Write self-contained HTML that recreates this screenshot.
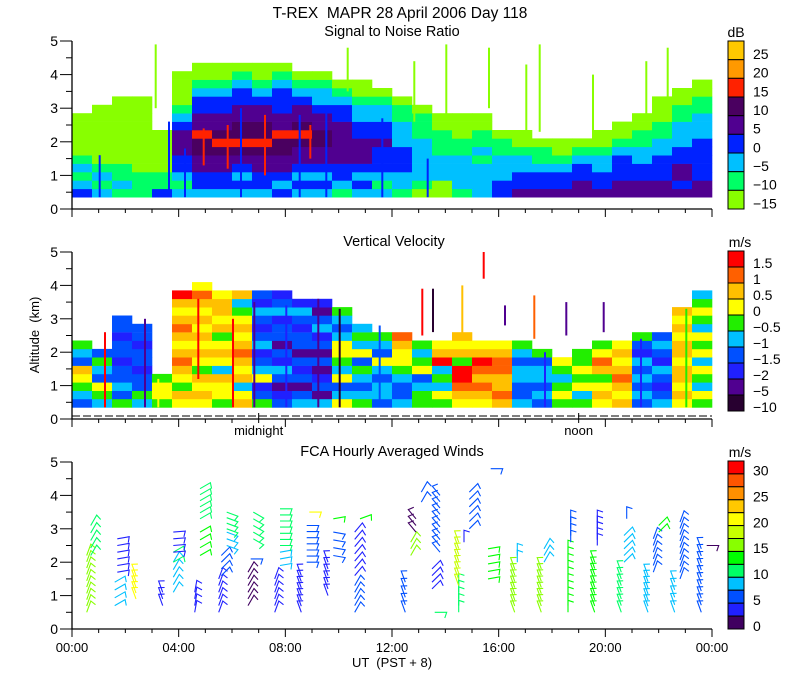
<!DOCTYPE html>
<html><head><meta charset="utf-8"><style>
html,body{margin:0;padding:0;background:#fff}
svg{display:block;font-family:"Liberation Sans",sans-serif}
text{fill:#000;white-space:pre}
</style></head><body>
<svg id="chart" width="800" height="700" viewBox="0 0 800 700" xmlns="http://www.w3.org/2000/svg" xml:space="preserve">
<rect width="800" height="700" fill="#fff"/>
<text x="400" y="18" font-size="15.5" text-anchor="middle">T-REX  MAPR 28 April 2006 Day 118</text>
<text x="392" y="36" font-size="14.5" text-anchor="middle">Signal to Noise Ratio</text>
<text x="394" y="246" font-size="14.5" text-anchor="middle">Vertical Velocity</text>
<text x="392" y="456" font-size="14.5" text-anchor="middle">FCA Hourly Averaged Winds</text>
<text x="39" y="335" font-size="13" text-anchor="middle" transform="rotate(-90 39 335)">Altitude  (km)</text>
<text x="392" y="667" font-size="13" text-anchor="middle">UT  (PST + 8)</text>
<text x="736" y="37" font-size="14" text-anchor="middle">dB</text>
<text x="740" y="247" font-size="14" text-anchor="middle">m/s</text>
<text x="740" y="457" font-size="14" text-anchor="middle">m/s</text>
<g id="layer"></g>
</svg>
<script>
// ---------- data ----------
const hoursX = [0, 4, 8, 12, 16, 20, 24];
const hourLabels = ["00:00","04:00","08:00","12:00","16:00","20:00","00:00"];
const kmTicks = [0,1,2,3,4,5];
const snrLabels = ["\u221215","\u221210","\u22125","0","5","10","15","20","25"];
const snrColors = ["#88ff00","#00ff66","#00c0ff","#0022ff","#500090","#4a0060","#ff2200","#ff9900","#ffc800"];
const snrCols = [
"dcbcbaaaaa","cbcbaaaaaaa","bcbbaaaaaaaa","bbbaaaaaaaaa","dbbaaaaa",
"cbcddeeedcbaaaa","cddeeffgeeddcbaa","cddeefgfeeddcbaa","cdcdefgffeeddcba","cddeefgffeedcbaa",
"dcdeeffgeedddcba","cdcdeefgfeedcba","cdcdeeffeedccba","bcddeeeeeddcba","cdcdeeeddccbaa",
"cbcdddeddccba","bccdddcccbba","abcccccbbba","aacccbbbaa","bccccbbaaa",
"ccccbcbbaa","ddcccbba","eddccbaa","eddcbba","eddcbaa",
"eeddcba","eddccbaa","eedddcbaa","eeddccbbaa","eedddccbbaaa",
"edeeddcccbbaa","eedddddcccbbaa"];
// SNR streaks: [hour, bottomKm, topKm, classIndex]
const snrStreaks = [[3.1,3.0,4.9,0],[10.3,3.5,4.8,0],[14.0,2.8,4.9,0],[15.6,3.0,4.8,0],[17.0,2.3,4.3,0],[17.5,2.3,4.9,0],[19.5,2.2,4.0,0],[21.5,2.6,4.4,0],[22.3,3.0,4.8,0],[12.8,2.6,4.4,0],
[1.0,0.35,1.6,3],[3.6,0.35,2.6,3],[6.3,0.35,3.0,3],[8.5,0.35,2.8,3],[9.5,0.35,3.0,3],[11.6,0.35,2.7,3],[13.3,0.35,1.5,3],[4.2,0.35,1.8,3],
[7.2,1.0,2.8,6],[5.8,1.2,2.5,6],[8.9,1.5,2.5,6],[4.9,1.3,2.4,6]];
const vvLabels = ["1.5","1","0.5","0","\u22120.5","\u22121","\u22121.5","\u22122","\u22125","\u221210"];
const vvColors = ["#ff0000","#ff6000","#ffc000","#ffff00","#22ee00","#00c0ff","#0050ff","#2020ff","#500090","#280030"];
const vvCols = [
"gfedcgfe","fedgfeg","egfgghgghgg","fegghgghgg","edde",
"dcedcbcdcbcdca","dcdcedcdcdcdcbd","eddcfdcdecdccd","cdfcdcbcdcdefc","eghdfghfghgfhg",
"ghigfhgigghfgh","fgighgigghgfh","fighigighfgih","dfgdfeddfgfe","efgfegdfef",
"gffgfdgfe","fggfeddcb","eefgdefe","edfefacd","dcbaaecdc",
"dcbcbacd","cbccbbcd","fggffgfe","gfgffge","edefed",
"efdedee","dcdecbde","cdcbcdcd","gfgfgfhge","fghgfhgfg",
"dcdccdccdcdc","edfedfdedfedef"];
// VV streaks / spikes: [hour, bottomKm, topKm, class]
const vvSpikes = [[13.1,2.5,3.9,0],[13.5,2.6,3.9,9],[14.6,2.5,4.0,2],[15.4,4.2,5.0,0],[17.3,2.4,3.7,1],[18.5,2.5,3.5,8],[19.9,2.6,3.5,8],[16.2,2.8,3.4,8],
[2.7,0.35,3.0,8],[6.8,0.35,3.5,8],[9.2,0.35,3.6,8],[10.0,0.35,3.3,9],[4.7,1.2,3.6,0],[6.0,0.35,3.0,0],[3.2,0.35,1.2,3],[11.5,0.35,2.8,6],[17.7,0.35,2.0,7],[21.3,0.35,2.4,7],[23.0,0.35,3.3,4],[8.0,0.35,3.4,7],[1.2,0.35,2.6,0]];
const windLabels = ["0","5","10","15","20","25","30"];
const windColors = ["#400060","#2020ff","#0050ff","#00c0ff","#00ff66","#00ff00","#88ff00","#c8ff00","#ffff00","#ffc800","#ff9000","#ff5500","#ff0000"];
const windHour = [0.55,0.7,1.6,1.7,2.4,3.4,3.8,3.8,3.8,4.6,4.8,4.8,5.5,5.6,5.8,5.8,6.6,6.7,6.8,7.6,7.8,7.8,8.6,8.8,8.9,9.6,9.8,9.8,10.6,10.6,10.8,12.5,12.7,12.9,13.1,13.6,13.5,13.8,14.5,14.5,14.7,14.9,15.6,15.7,16.6,16.7,17.6,17.7,18.6,18.7,19.6,19.7,20.6,20.7,20.8,21.6,21.8,22.0,22.6,22.8,23.6,23.8];
const windBot = [0.5,2.2,0.7,1.7,0.9,0.7,1.1,2.0,2.3,0.5,2.2,3.3,0.5,1.6,2.5,3.0,0.7,2.1,2.7,0.5,1.9,2.5,0.5,2.0,3.5,1.0,2.2,3.3,0.5,1.6,3.3,0.5,2.2,2.9,3.8,0.5,1.2,2.3,0.5,1.3,2.6,3.0,1.5,4.8,0.5,2.0,0.5,2.0,0.5,2.6,0.5,2.5,0.5,2.0,3.3,0.5,1.7,2.9,0.5,1.5,0.5,2.5];
const windTop = [2.2,3.1,1.4,2.7,1.6,1.1,2.0,2.3,2.9,1.1,2.9,4.2,1.5,2.2,2.9,3.5,1.7,2.1,3.5,1.5,2.3,3.6,1.6,3.1,3.5,2.0,2.9,3.3,1.3,2.9,3.3,1.4,2.6,3.3,4.1,0.5,1.8,4.0,1.3,2.6,2.6,4.1,2.4,4.8,1.8,2.2,1.8,2.4,2.3,3.2,2.0,3.2,1.7,2.8,3.3,1.6,2.7,3.1,1.4,3.2,2.4,2.5];
const windDir = [20,30,60,80,340,340,30,60,85,10,60,60,20,45,110,110,30,90,120,20,80,90,340,90,90,340,100,80,30,40,70,340,30,320,30,90,45,320,0,340,0,45,80,90,340,0,340,30,0,0,340,0,340,45,0,340,20,45,340,20,340,90];
const windSpd = [17,12,8,4,20,3,8,12,3,4,13,12,4,5,9,12,1,5,12,4,9,10,3,5,22,4,5,14,5,4,14,6,17,1,5,10,4,5,10,18,4,5,14,5,17,9,16,9,13,5,13,3,10,9,5,9,5,13,9,5,7,1];

// ---------- geometry ----------
const X0=72, X1=712;
const xOf = h => X0 + (X1-X0)*h/24;
const panels = [ {y0:209, y5:41}, {y0:419, y5:252}, {y0:629, y5:462} ];
const yOf = (p,km) => p.y0 + (p.y5-p.y0)*km/5;
const NS="http://www.w3.org/2000/svg";
const layer=document.getElementById('layer');
function mk(tag, attrs){const e=document.createElementNS(NS,tag);for(const k in attrs)e.setAttribute(k,attrs[k]);layer.appendChild(e);return e;}

function heat(p, cols, colors, prefix){
  const colH = 24/cols.length;
  cols.forEach((s,ci)=>{
    for(let r=0;r<s.length;r++){
      const k=s.charCodeAt(r)-97; if(k<0||k>=colors.length) continue;
      const x=xOf(ci*colH), w=xOf((ci+1)*colH)-x;
      const yt=yOf(p,0.35+0.25*(r+1)), yb=yOf(p,0.35+0.25*r);
      const e=mk('rect',{x:x.toFixed(1),y:yt.toFixed(1),width:(w+0.3).toFixed(1),height:(yb-yt+0.3).toFixed(1),fill:colors[k]});
      
      
    }
  });
}
function streaks(p, arr, colors, name){
  arr.forEach(s=>{
    const e=mk('rect',{x:xOf(s[0]).toFixed(1),y:yOf(p,s[2]).toFixed(1),width:2,height:(yOf(p,s[1])-yOf(p,s[2])).toFixed(1),fill:colors[s[3]]});
    
    
  });
}
heat(panels[0], snrCols, snrColors, 'snr');
streaks(panels[0], snrStreaks, snrColors, 'snr-streak');
heat(panels[1], vvCols, vvColors, 'vv');
streaks(panels[1], vvSpikes, vvColors, 'vv-spike');

function spdColor(v){const i=Math.max(0,Math.min(12,Math.floor(v/2.5)));return windColors[i];}
const p3=panels[2];
windHour.forEach((h,i)=>{
  const b=windBot[i], t=windTop[i];
  const n=Math.max(1,Math.round((t-b)/0.2)+1);
  for(let j=0;j<n;j++){
    const km = n===1? b : b+(t-b)*j/(n-1);
    const x=xOf(h), y=yOf(p3,km);
    const a=windDir[i]*Math.PI/180, L=12;
    const ex=x+L*Math.sin(a), ey=y-L*Math.cos(a);
    const fa=a+Math.PI*0.6, fx=ex+6*Math.sin(fa), fy=ey-6*Math.cos(fa);
    const c=spdColor(windSpd[i]);
    const g=mk('path',{d:`M${x.toFixed(1)} ${y.toFixed(1)}L${ex.toFixed(1)} ${ey.toFixed(1)}L${fx.toFixed(1)} ${fy.toFixed(1)}`,stroke:c,'stroke-width':1.1,fill:'none'});
    
    
  }
});

panels.forEach((p,pi)=>{
  const ax=mk('path',{d:`M${X0} ${p.y5}V${p.y0}H${X1}`,stroke:'#000','stroke-width':1.3,fill:'none'});
  
  
  for(let k=0;k<=10;k++){
    const y=yOf(p,k/2), len=(k%2===0)?12:6;
    mk('line',{x1:X0-len,y1:y,x2:X0,y2:y,stroke:'#000','stroke-width':1});
  }
  kmTicks.forEach(k=>{
    const t=mk('text',{x:58,y:(yOf(p,k)+5).toFixed(1),'font-size':14,'text-anchor':'end'});
    t.textContent=k;
    
    
  });
  for(let hh=0;hh<=24;hh++){
    const x=xOf(hh), len=(hh%4===0)?8:4;
    mk('line',{x1:x,y1:p.y0,x2:x,y2:p.y0+len,stroke:'#000','stroke-width':1});
  }
});
const dl=mk('line',{x1:X0,y1:416,x2:X1,y2:416,stroke:'#000','stroke-width':1,'stroke-dasharray':'8,3'});


[[7,'midnight'],[19,'noon']].forEach(m=>{
  mk('line',{x1:xOf(m[0]),y1:413,x2:xOf(m[0]),y2:419,stroke:'#000'});
  const t=mk('text',{x:xOf(m[0]),y:435,'font-size':13,'text-anchor':'middle'});
  t.textContent=m[1];
  
  
});
hoursX.forEach((h,i)=>{
  const t=mk('text',{x:xOf(h),y:652,'font-size':13,'text-anchor':'middle'});
  t.textContent=hourLabels[i];
  
  
});

function colorbar(top,bot,colorsTopDown,labels,labelIdx,name){
  const n=colorsTopDown.length, hgt=(bot-top)/n;
  colorsTopDown.forEach((c,i)=>{
    const r=mk('rect',{x:728,y:(top+i*hgt).toFixed(1),width:16,height:hgt.toFixed(1),fill:c,stroke:'#000','stroke-width':1});
    
    
  });
  labels.forEach((l,i)=>{
    const y=labelIdx(i,hgt);
    const t=mk('text',{x:753,y:(y+5).toFixed(1),'font-size':14});
    t.textContent=l;
    
    
  });
}
colorbar(41,209,snrColors.slice().reverse(),snrLabels.slice().reverse(),(i,h)=>41+h*(i+0.7),'snr-colorbar');
colorbar(251,411,vvColors,vvLabels,(i,h)=>251+h*(i+0.75),'vv-colorbar');
colorbar(461,629,windColors.slice().reverse(),windLabels.slice().reverse(),(i,h)=>461+h*(2*i+0.75),'wind-colorbar');
</script>
</body></html>
